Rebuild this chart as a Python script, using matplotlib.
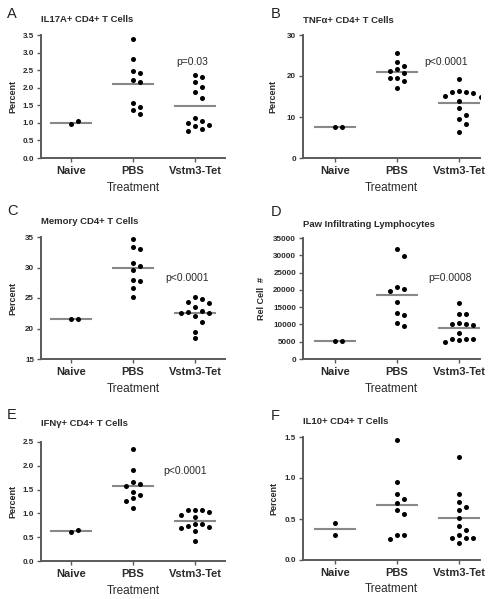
import numpy as np
import matplotlib.pyplot as plt

plt.rcParams['font.family'] = ['Liberation Sans', 'DejaVu Sans']

groups = ['Naive', 'PBS', 'Vstm3-Tet']

# A: IL17A+ CD4+ T cells (percent)
a_naive = [0.97, 1.05]
a_pbs = [3.38, 2.81, 2.48, 2.43, 2.22, 2.17, 1.57, 1.46, 1.37, 1.25]
a_vstm3 = [2.37, 2.31, 2.17, 2.01, 1.88, 1.71, 1.13, 1.06, 1.01, 0.95, 0.91, 0.82, 0.77]

# B: TNFa+ CD4+ T cells (percent)
b_naive = [7.6, 7.6]
b_pbs = [25.5, 23.4, 22.4, 21.6, 21.1, 20.7, 19.5, 19.4, 18.7, 17.1]
b_vstm3 = [19.2, 16.3, 16.0, 16.0, 15.9, 15.1, 15.0, 13.9, 12.2, 10.6, 9.6, 8.2, 6.4]

# C: memory CD4+ T cells (percent)
c_naive = [21.6, 21.6]
c_pbs = [34.7, 33.3, 33.1, 30.7, 30.2, 29.6, 27.9, 27.8, 26.6, 25.1]
c_vstm3 = [25.1, 24.8, 24.3, 24.2, 23.5, 22.9, 22.7, 22.6, 22.6, 22.0, 21.1, 19.5, 18.4]

# D: paw infiltrating lymphocytes (relative cell #)
d_naive = [5350, 5350]
d_pbs = [31700, 29800, 20700, 20200, 19700, 16400, 13200, 12600, 10300, 9600]
d_vstm3 = [16100, 13000, 12900, 10500, 10200, 10000, 9800, 7600, 5900, 5900, 5900, 5400, 4900]

# E: IFNg+ CD4+ T cells (percent)
e_naive = [0.61, 0.66]
e_pbs = [2.35, 1.91, 1.67, 1.62, 1.58, 1.46, 1.38, 1.32, 1.27, 1.12]
e_vstm3 = [1.07, 1.07, 1.07, 1.02, 0.96, 0.92, 0.77, 0.77, 0.74, 0.72, 0.70, 0.63, 0.42]

# F: IL10+ CD4+ T cells (percent)
f_naive = [0.45, 0.30]
f_pbs = [1.46, 0.95, 0.81, 0.75, 0.70, 0.61, 0.56, 0.31, 0.31, 0.26]
f_vstm3 = [1.26, 0.81, 0.71, 0.65, 0.61, 0.51, 0.41, 0.37, 0.31, 0.27, 0.27, 0.27, 0.21]

titles = ['IL17A+ CD4+ T Cells', 'TNF\u03b1+ CD4+ T Cells', 'Memory CD4+ T Cells',
          'Paw Infiltrating Lymphocytes', 'IFN\u03b3+ CD4+ T Cells', 'IL10+ CD4+ T Cells']
letters = ['A', 'B', 'C', 'D', 'E', 'F']
ylabels = ['Percent', 'Percent', 'Percent', 'Rel Cell  #', 'Percent', 'Percent']
ylims = [(0, 3.5), (0, 30), (15, 35), (0, 35000), (0, 2.5), (0, 1.5)]
yticks = [np.arange(0, 3.51, 0.5), [0, 10, 20, 30], [15, 20, 25, 30, 35],
          np.arange(0, 35001, 5000), np.arange(0, 2.51, 0.5), [0, 0.5, 1.0, 1.5]]
yfmt = ['%.1f', '%d', '%d', '%d', '%.1f', '%.1f']
pvals = ['p=0.03', 'p<0.0001', 'p<0.0001', 'p=0.0008', 'p<0.0001', None]
data = [(a_naive, a_pbs, a_vstm3), (b_naive, b_pbs, b_vstm3), (c_naive, c_pbs, c_vstm3),
        (d_naive, d_pbs, d_vstm3), (e_naive, e_pbs, e_vstm3), (f_naive, f_pbs, f_vstm3)]

# layout in pixels: left, right, top, bottom, first category x
boxes = [(41, 225, 35, 158, 71), (303, 480, 35, 158, 335),
         (41, 225, 237, 359, 71), (303, 480, 238, 359, 335),
         (41, 225, 442, 561, 71), (303, 480, 437, 560, 335)]
ppos = [(1.95, 2.72), (1.79, 23.3), (1.87, 28.2), (1.85, 23300), (1.84, 1.90), None]
letter_pos = [(7, 18), (271, 18), (7, 215), (271, 216), (7, 419), (271, 420)]
title_gap = [13, 12, 13, 11.5, 16, 13]
ylab_x = [17, 277, 17, 266, 17, 278]

W, H = 498, 599
SP = 62.0  # pixels between categories
fig = plt.figure(figsize=(W / 100, H / 100), dpi=100)

grey = '#5a5a5a'
txt = '#2a2a2a'


def swarm(vals, ypx, d=7.2):
    # simple beeswarm: nearest free slot to the centre
    placed, offs = [], []
    cands = [0]
    for i in range(1, 6):
        cands += [i, -i]
    for v in vals:
        y = v * ypx
        for c in cands:
            if all((c * d - px) ** 2 + (y - py) ** 2 >= (d * 0.92) ** 2 for px, py in placed):
                break
        placed.append((c * d, y))
        offs.append(c * d)
    return np.array(offs)


for i in range(6):
    left, right, top, bottom, c0 = boxes[i]
    ax = fig.add_axes([left / W, 1 - bottom / H, (right - left) / W, (bottom - top) / H])
    ax.set_xlim((left - c0) / SP, (right - c0) / SP)
    ax.set_ylim(*ylims[i])
    ypx = (bottom - top) / (ylims[i][1] - ylims[i][0])
    for g, vals in enumerate(data[i]):
        offs = swarm(vals, ypx) / SP
        ax.scatter(g + offs, vals, s=13, color='black', zorder=3, linewidths=0)
        m = np.mean(vals)
        ax.plot([g - 0.33, g + 0.33], [m, m], color='#888888', lw=1.5, zorder=2)

    for s in ['top', 'right']:
        ax.spines[s].set_visible(False)
    for s in ['left', 'bottom']:
        ax.spines[s].set_color(grey)
        ax.spines[s].set_linewidth(1.4)
    ax.set_xticks(range(3))
    ax.set_xticklabels(groups, fontsize=8, fontweight='bold', color=txt)
    ax.set_yticks(yticks[i])
    ax.set_yticklabels([yfmt[i] % t for t in yticks[i]], fontsize=5.8,
                       fontweight='bold', color=txt)
    ax.tick_params(axis='both', direction='out', length=3, width=1, color=grey, pad=2)
    ax.tick_params(axis='x', pad=3)

    ax.set_ylabel(ylabels[i], fontsize=6.5, fontweight='bold', color=txt)
    ax.yaxis.set_label_coords((ylab_x[i] - left) / (right - left), 0.5)
    ax.set_xlabel('Treatment', fontsize=8.5, color=txt)
    ax.xaxis.set_label_coords(0.5, -23.5 / (bottom - top))

    ax.text(0.0, 1 + title_gap[i] / (bottom - top), titles[i], transform=ax.transAxes,
            fontsize=6.8, fontweight='bold', color=txt, va='baseline', ha='left')
    if pvals[i]:
        ax.text(ppos[i][0], ppos[i][1], pvals[i], fontsize=7.5, color=txt,
                ha='center', va='center')

    lx, ly = letter_pos[i]
    fig.text(lx / W, 1 - ly / H, letters[i], fontsize=10.5, color='#222222',
             va='baseline', ha='left')

fig.savefig('out.png', dpi=100, facecolor='white')
